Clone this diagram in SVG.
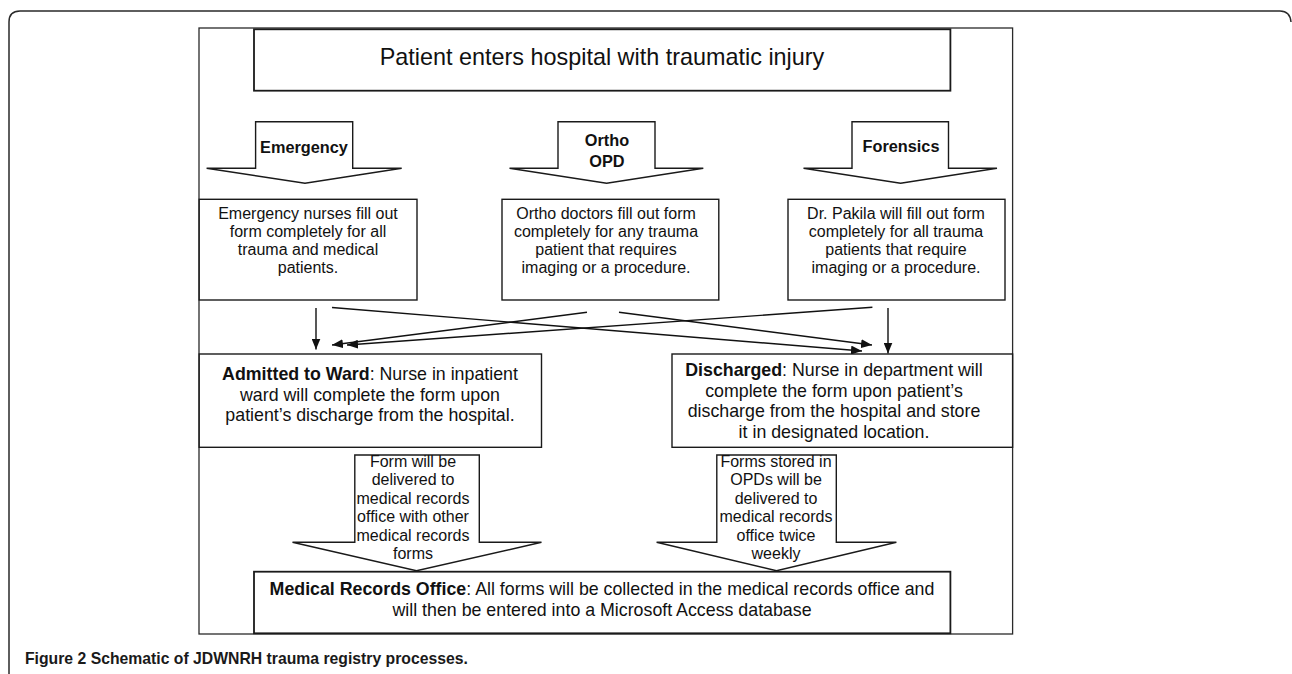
<svg xmlns="http://www.w3.org/2000/svg" width="1292" height="674" viewBox="0 0 1292 674">
<style>
.frame{fill:none;stroke:#2a2a2a;stroke-width:1.5}
.box{fill:#fff;stroke:#1a1a1a;stroke-width:1.4}
.barrow{fill:#fff;stroke:#1a1a1a;stroke-width:1.4;stroke-linejoin:miter}
.conn{fill:none;stroke:#111;stroke-width:1.4}
text{font-family:"Liberation Sans",Arial,Helvetica,sans-serif;fill:#111;text-anchor:middle}
.t16{font-size:16px}
.t18{font-size:17.8px}
.lbl{font-size:16.3px;font-weight:bold}
.title{font-size:23.4px}
.cap{font-size:15.75px;font-weight:bold;text-anchor:start;fill:#1a1a1a}
b,.b{font-weight:bold}
</style>
<defs>
<marker id="ah" markerUnits="userSpaceOnUse" markerWidth="11" markerHeight="9" refX="11" refY="4.5" orient="auto">
<path d="M0,0 L11,4.5 L0,9 Z" fill="#111"/>
</marker>
</defs>

<path class="frame" d="M9,674 V22 Q9,11 20,11 H1280 Q1290,11 1291,22"/>
<rect class="frame" x="199" y="28" width="813.6" height="606" style="stroke-width:1.3"/>

<g id="start">
<rect class="box" x="254" y="29.3" width="696.4" height="61.4" style="stroke-width:1.8"/>
<text class="title" x="602" y="65">Patient enters hospital with traumatic injury</text>
</g>

<g id="arrow-emergency">
<path class="barrow" d="M255.6,121.7 H352.7 V168.3 H401.7 L305,183.3 L206.6,168.3 H255.6 Z"/>
<text class="lbl" x="304" y="152.7">Emergency</text>
</g>
<g id="arrow-ortho">
<path class="barrow" d="M558,121.7 H655 V168.3 H703.3 L606.6,183.3 L509.5,168.3 H558 Z"/>
<text class="lbl" x="607" y="146">Ortho</text>
<text class="lbl" x="607" y="166.7">OPD</text>
</g>
<g id="arrow-forensics">
<path class="barrow" d="M852,121.7 H948.5 V168.3 H997 L900.6,183.3 L803.5,168.3 H852 Z"/>
<text class="lbl" x="901" y="151.7">Forensics</text>
</g>

<g id="box-emergency">
<rect class="box" x="199.2" y="199.3" width="217.8" height="100.7"/>
<text class="t16" x="308" y="218.5">Emergency nurses fill out</text>
<text class="t16" x="308" y="236.8">form completely for all</text>
<text class="t16" x="308" y="255.1">trauma and medical</text>
<text class="t16" x="308" y="273.4">patients.</text>
</g>
<g id="box-ortho">
<rect class="box" x="502" y="199.3" width="216.8" height="100.7"/>
<text class="t16" x="606" y="218.5">Ortho doctors fill out form</text>
<text class="t16" x="606" y="236.8">completely for any trauma</text>
<text class="t16" x="606" y="255.1">patient that requires</text>
<text class="t16" x="606" y="273.4">imaging or a procedure.</text>
</g>
<g id="box-forensics">
<rect class="box" x="788" y="199.3" width="217" height="100.7"/>
<text class="t16" x="896" y="218.5">Dr. Pakila will fill out form</text>
<text class="t16" x="896" y="236.8">completely for all trauma</text>
<text class="t16" x="896" y="255.1">patients that require</text>
<text class="t16" x="896" y="273.4">imaging or a procedure.</text>
</g>

<g id="connectors">
<path class="conn" d="M316,308 V349.5" marker-end="url(#ah)"/>
<path class="conn" d="M332,307.5 L862,351" marker-end="url(#ah)"/>
<path class="conn" d="M587,312.3 L332,345" marker-end="url(#ah)"/>
<path class="conn" d="M619,312.3 L872,345" marker-end="url(#ah)"/>
<path class="conn" d="M872.4,307.3 L347,345" marker-end="url(#ah)"/>
<path class="conn" d="M888,308 V353.5" marker-end="url(#ah)"/>
</g>

<g id="box-admitted">
<rect class="box" x="199.2" y="354" width="342.3" height="93.3"/>
<text class="t18" x="370" y="380"><tspan class="b">Admitted to Ward</tspan>: Nurse in inpatient</text>
<text class="t18" x="370" y="400.7">ward will complete the form upon</text>
<text class="t18" x="370" y="421.4">patient’s discharge from the hospital.</text>
</g>
<g id="box-discharged">
<rect class="box" x="672" y="354" width="340.6" height="93.3"/>
<text class="t18" x="834" y="376"><tspan class="b">Discharged</tspan>: Nurse in department will</text>
<text class="t18" x="834" y="396.7">complete the form upon patient’s</text>
<text class="t18" x="834" y="417.4">discharge from the hospital and store</text>
<text class="t18" x="834" y="438">it in designated location.</text>
</g>

<g id="arrow-ward-records">
<path class="barrow" d="M354.8,455 H479.3 V542.3 H541.5 L416.5,570.7 L292.5,542.3 H354.8 Z"/>
<text class="t16" x="413" y="467">Form will be</text>
<text class="t16" x="413" y="485.4">delivered to</text>
<text class="t16" x="413" y="503.8">medical records</text>
<text class="t16" x="413" y="522.2">office with other</text>
<text class="t16" x="413" y="540.6">medical records</text>
<text class="t16" x="413" y="559">forms</text>
</g>
<g id="arrow-opd-records">
<path class="barrow" d="M716.8,455 H836.3 V542.3 H896.4 L776.5,570.7 L656.6,542.3 H716.8 Z"/>
<text class="t16" x="776" y="467">Forms stored in</text>
<text class="t16" x="776" y="485.4">OPDs will be</text>
<text class="t16" x="776" y="503.8">delivered to</text>
<text class="t16" x="776" y="522.2">medical records</text>
<text class="t16" x="776" y="540.6">office twice</text>
<text class="t16" x="776" y="559">weekly</text>
</g>

<g id="box-records">
<rect class="box" x="254" y="571.7" width="696.4" height="61.6" style="stroke-width:1.8"/>
<text class="t18" x="602" y="595"><tspan class="b">Medical Records Office</tspan>: All forms will be collected in the medical records office and</text>
<text class="t18" x="602" y="615.5">will then be entered into a Microsoft Access database</text>
</g>

<text class="cap" x="25" y="664.3">Figure 2 Schematic of JDWNRH trauma registry processes.</text>
</svg>
